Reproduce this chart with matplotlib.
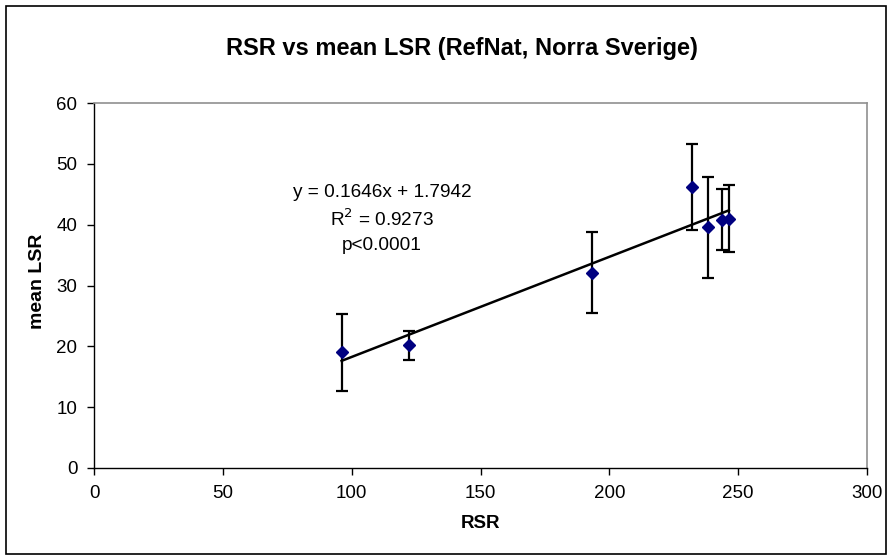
import matplotlib
matplotlib.use("Agg")
import matplotlib.pyplot as plt
import numpy as np
from matplotlib.patches import Rectangle

plt.rcParams['font.family'] = ['Liberation Sans', 'DejaVu Sans']

rsr = [96.1, 122.2, 193.4, 231.9, 238.4, 243.7, 246.4]
mean_lsr = [19.0, 20.2, 32.1, 46.2, 39.6, 40.8, 41.0]
err = [6.3, 2.4, 6.7, 7.0, 8.3, 5.0, 5.5]
slope, intercept = 0.1646, 1.7942
x_ticks = [0, 50, 100, 150, 200, 250, 300]
y_ticks = [0, 10, 20, 30, 40, 50, 60]

fig = plt.figure(figsize=(8.88, 5.59), dpi=100)
ax = fig.add_axes([94/888, 1-468/559, (867-94)/888, (468-103)/559])

# outer frame
fig.patches.append(Rectangle((6/888, 5/559), (886-6)/888, (553-5)/559,
                             transform=fig.transFigure, fill=False,
                             edgecolor='black', linewidth=1.2))

ax.errorbar(rsr, mean_lsr, yerr=err, fmt='none', ecolor='black',
            elinewidth=1.6, capsize=4.5, capthick=1.6, zorder=2)
xl = np.array([min(rsr), max(rsr)])
ax.plot(xl, slope*xl + intercept, color='black', linewidth=1.8, zorder=3)
ax.plot(rsr, mean_lsr, linestyle='none', marker='D', markersize=6.5,
        color='#000080', zorder=4)

ax.set_xlim(0, 300)
ax.set_ylim(0, 60)
ax.set_xticks(x_ticks)
ax.set_yticks(y_ticks)
ax.tick_params(direction='out', length=5, width=1, labelsize=13.5, pad=7)
for s in ['top', 'right']:
    ax.spines[s].set_color('#909090')
    ax.spines[s].set_linewidth(1.2)
for s in ['left', 'bottom']:
    ax.spines[s].set_color('black')
    ax.spines[s].set_linewidth(1.0)

ax.set_xlabel('RSR', fontsize=13.5, fontweight='bold')
ax.xaxis.set_label_coords(0.5, -(524-468)/365)
ax.set_ylabel('mean LSR', fontsize=14, fontweight='bold')
ax.yaxis.set_label_coords((38-94)/773, (468-281)/365)
ax.yaxis.label.set_va('center')
ax.xaxis.label.set_va('center')

fig.text(462/888, 1-48/559, 'RSR vs mean LSR (RefNat, Norra Sverige)',
         ha='center', va='center', fontsize=17, fontweight='bold')

fig.text(382/888, 1-193/559, 'y = 0.1646x + 1.7942', ha='center', va='center', fontsize=13.7)
fig.text(382/888, 1-219/559, r'R$^2$ = 0.9273', ha='center', va='center', fontsize=13.7)
fig.text(382/888, 1-245/559, 'p<0.0001', ha='center', va='center', fontsize=13.7)

fig.savefig('out.png', dpi=100)
